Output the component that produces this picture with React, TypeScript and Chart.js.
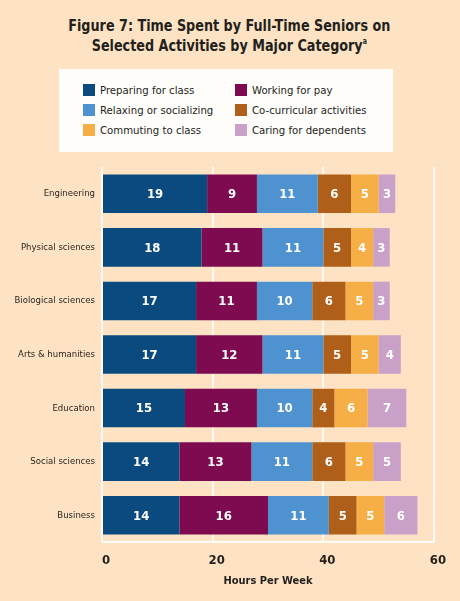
import React, { useEffect, useRef } from "react";
import { Chart, registerables } from "chart.js";

Chart.register(...registerables);

const categories = [
  "Engineering",
  "Physical sciences",
  "Biological sciences",
  "Arts & humanities",
  "Education",
  "Social sciences",
  "Business",
];
const seriesNames = [
  "Preparing for class",
  "Working for pay",
  "Relaxing or socializing",
  "Co-curricular activities",
  "Commuting to class",
  "Caring for dependents",
];
const preparing = [19, 18, 17, 17, 15, 14, 14];
const working = [9, 11, 11, 12, 13, 13, 16];
const relaxing = [11, 11, 10, 11, 10, 11, 11];
const cocurricular = [6, 5, 6, 5, 4, 6, 5];
const commuting = [5, 4, 5, 5, 6, 5, 5];
const caring = [3, 3, 3, 4, 7, 5, 6];
const seriesColors = ["#0b4a7e", "#7e0b50", "#4f92d0", "#b05f1a", "#f6ae46", "#c9a1c8"];
const xTicks = [0, 20, 40, 60];

const BG = "#fde3c4";
const FONT = "'DejaVu Sans Condensed', 'Liberation Sans Narrow', Roboto, sans-serif";
const TEXT = "#231f1c";

const valueLabels = {
  id: "valueLabels",
  afterDatasetsDraw(chart: any) {
    const ctx = chart.ctx;
    ctx.save();
    ctx.fillStyle = "#ffffff";
    ctx.font = `bold 13px ${FONT}`;
    ctx.textAlign = "center";
    ctx.textBaseline = "middle";
    chart.data.datasets.forEach((ds: any, i: number) => {
      const meta = chart.getDatasetMeta(i);
      meta.data.forEach((bar: any, j: number) => {
        const p = bar.getProps(["x", "y", "base"], true);
        ctx.fillText(String(ds.data[j]), (p.x + p.base) / 2, p.y + 1);
      });
    });
    ctx.restore();
  },
};

export default function App() {
  const ref = useRef<HTMLCanvasElement>(null);
  useEffect(() => {
    if (!ref.current) return;
    const all = [preparing, working, relaxing, cocurricular, commuting, caring];
    const chart = new Chart(ref.current, {
      type: "bar",
      data: {
        labels: categories,
        datasets: all.map((d, i) => ({
          label: seriesNames[i],
          data: d,
          backgroundColor: seriesColors[i],
          borderWidth: 0,
          barPercentage: 0.72,
          categoryPercentage: 1,
        })),
      },
      options: {
        indexAxis: "y",
        responsive: false,
        animation: false,
        devicePixelRatio: 1,
        layout: { padding: { top: 7, right: 26, bottom: 8, left: 0 } },
        plugins: { legend: { display: false }, title: { display: false }, tooltip: { enabled: false } },
        scales: {
          x: {
            stacked: true,
            min: 0,
            max: 60,
            afterBuildTicks: (s: any) => {
              s.ticks = xTicks.map((v) => ({ value: v }));
            },
            afterFit: (s: any) => {
              s.height = 51;
            },
            grid: { color: "rgba(255,255,255,0.75)", lineWidth: 2, drawTicks: false },
            border: { display: true, color: "rgba(255,255,255,0.85)", width: 2 },
            ticks: {
              color: TEXT,
              font: { family: FONT, size: 13, weight: "bold" },
              padding: 11,
              labelOffset: 4,
            },
            title: {
              display: true,
              text: "Hours Per Week",
              color: TEXT,
              font: { family: FONT, size: 11, weight: "bold" },
              padding: { top: 7, bottom: 5 },
            },
          },
          y: {
            stacked: true,
            afterFit: (s: any) => {
              s.width = 102;
              s.paddingTop = 0;
              s.paddingBottom = 0;
            },
            grid: { display: false, drawTicks: false },
            border: { display: false },
            ticks: {
              color: TEXT,
              font: { family: FONT, size: 9.5 },
              padding: 7,
            },
          },
        },
      },
      plugins: [valueLabels],
    });
    return () => chart.destroy();
  }, []);

  const legendItems = seriesNames.map((n, i) => ({ name: n, color: seriesColors[i] }));

  return (
    <div
      style={{
        position: "absolute",
        left: 0,
        top: 0,
        width: 460,
        height: 601,
        background: BG,
        overflow: "hidden",
        fontFamily: FONT,
        color: TEXT,
      }}
    >
      <div
        style={{
          position: "absolute",
          top: 16,
          left: 0,
          width: 460,
          textAlign: "center",
          fontWeight: "bold",
          fontSize: 16.5,
          lineHeight: "20px",
          transform: "scaleX(0.86)",
          transformOrigin: "225px 0",
        }}
      >
        Figure 7: Time Spent by Full-Time Seniors on
        <br />
        Selected Activities by Major Category
        <sup style={{ fontSize: 8, verticalAlign: "top", lineHeight: "12px" }}>a</sup>
      </div>
      <div
        style={{
          position: "absolute",
          left: 59,
          top: 69,
          width: 334,
          height: 83,
          background: "#fffdfa",
        }}
      >
        {legendItems.map((it, i) => {
          const col = i % 2;
          const row = Math.floor(i / 2);
          return (
            <div
              key={it.name}
              style={{
                position: "absolute",
                left: col === 0 ? 24 : 176,
                top: 21 + row * 20 - 8,
                height: 16,
                display: "flex",
                alignItems: "center",
                fontSize: 11.3,
                whiteSpace: "nowrap",
              }}
            >
              <span
                style={{ display: "inline-block", width: 12, height: 12, background: it.color, marginRight: 5 }}
              />
              {it.name}
            </div>
          );
        })}
      </div>
      <canvas ref={ref} width={460} height={441} style={{ position: "absolute", left: 0, top: 160 }} />
    </div>
  );
}
